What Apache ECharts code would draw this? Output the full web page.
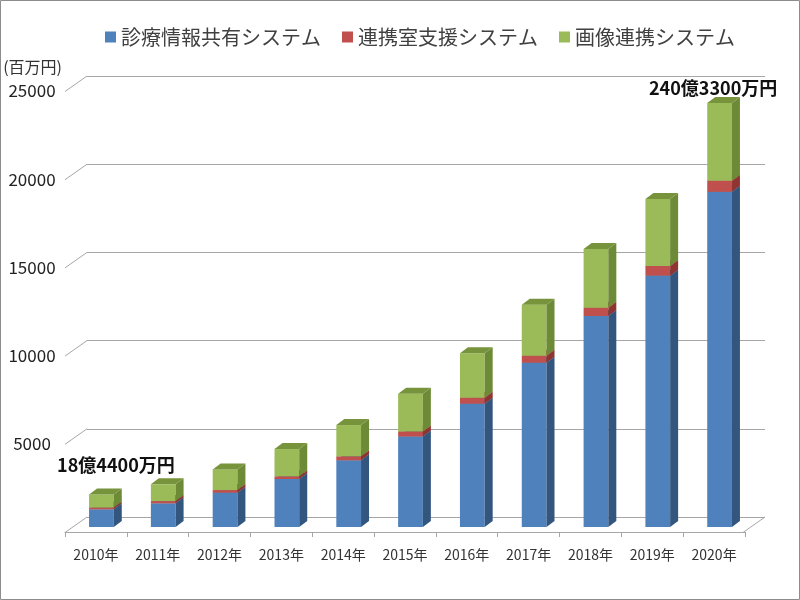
<!DOCTYPE html>
<html>
<head>
<meta charset="utf-8">
<script src="https://cdn.jsdelivr.net/npm/echarts@6/dist/echarts.min.js"></script>
<style>
html, body { margin: 0; padding: 0; background: #fff; }
#main { width: 800px; height: 600px; }
</style>
</head>
<body>
<div id="main"></div>
<script>
// data (百万円)
var years = ['2010年','2011年','2012年','2013年','2014年','2015年','2016年','2017年','2018年','2019年','2020年'];
var shinryo = [1000, 1340, 1945, 2720, 3780, 5130, 6990, 9315, 11960, 14250, 19000];
var renkei  = [100, 130, 150, 150, 225, 285, 340, 400, 470, 550, 630];
var gazou   = [744, 950, 1170, 1550, 1775, 2140, 2517, 2890, 3330, 3800, 4403];
var seriesNames = ['診療情報共有システム', '連携室支援システム', '画像連携システム'];
var yTicks = [0, 5000, 10000, 15000, 20000, 25000];
var noteYears = ['2010年', '2020年'];
var noteTexts = ['18億4400万円', '240億3300万円'];

var FONT = '"Noto Sans CJK JP", "Noto Sans", sans-serif';
var DEPTH_X = 22, DEPTH_Y = 15.5;     // front plane -> back wall
var BAR_DX = 5.5, BAR_DY = -5;        // bar front face offset from front plane
var SIDE_X = 8, SIDE_Y = 6;           // bar depth

var colors = [
    {front: '#4f81bd', side: '#33567f', top: '#3e6696'},
    {front: '#c0504d', side: '#8f3431', top: '#a43f3c'},
    {front: '#9bbb59', side: '#6d8a36', top: '#77933c'}
];

// stacking
var stacks = [shinryo, renkei, gazou];
var segData = [];
var running = years.map(function () { return 0; });
stacks.forEach(function (arr, s) {
    segData[s] = arr.map(function (v, i) {
        var lo = running[i];
        running[i] = lo + v;
        return [i, lo, lo + v];
    });
});
var totals = running.slice();

function renderSeg(c) {
    return function (params, api) {
        var i = api.value(0);
        var p0 = api.coord([i, api.value(1)]);
        var p1 = api.coord([i, api.value(2)]);
        var w = api.size([1, 0])[0] * 0.4;
        var x0 = p0[0] - w / 2 + BAR_DX, x1 = x0 + w;
        var yb = p0[1] + BAR_DY, yt = p1[1] + BAR_DY;
        return {
            type: 'group',
            children: [
                {type: 'polygon', shape: {points: [[x0, yb], [x1, yb], [x1, yt], [x0, yt]]}, style: {fill: c.front}},
                {type: 'polygon', shape: {points: [[x1, yb], [x1 + SIDE_X, yb - SIDE_Y], [x1 + SIDE_X, yt - SIDE_Y], [x1, yt]]}, style: {fill: c.side}},
                {type: 'polygon', shape: {points: [[x0, yt], [x1, yt], [x1 + SIDE_X, yt - SIDE_Y], [x0 + SIDE_X, yt - SIDE_Y]]}, style: {fill: c.top}}
            ]
        };
    };
}

function renderDiag(params, api) {
    var cs = params.coordSys;
    var v = api.value(0);
    var y = api.coord([0, v])[1];
    var ls = {stroke: '#a6a6a6', lineWidth: 1};
    var kids = [{type: 'line', shape: {x1: cs.x - DEPTH_X, y1: y + DEPTH_Y, x2: cs.x, y2: y}, style: ls}];
    if (v === 0) {
        kids.push({type: 'line', shape: {x1: cs.x + cs.width - DEPTH_X, y1: y + DEPTH_Y, x2: cs.x + cs.width, y2: y}, style: ls});
    }
    return {type: 'group', children: kids};
}

var noteOffsets = [[20, -34], [-1, -20]];
function renderNote(params, api) {
    var p = api.coord([api.value(0), api.value(1)]);
    var off = noteOffsets[params.dataIndex];
    return {
        type: 'text',
        x: p[0] + off[0],
        y: p[1] + off[1],
        style: {
            text: noteTexts[params.dataIndex],
            fill: '#111',
            font: 'bold 18px ' + FONT,
            align: 'center',
            verticalAlign: 'middle'
        }
    };
}

var chart = echarts.init(document.getElementById('main'));

var series = [
    {
        type: 'custom', name: 'diag', xAxisIndex: 1, yAxisIndex: 1,
        renderItem: renderDiag, silent: true, z: 1,
        data: yTicks.map(function (v) { return [v]; }),
        encode: {y: 0}
    }
];
seriesNames.forEach(function (n, s) {
    series.push({
        type: 'custom', name: n, xAxisIndex: 0, yAxisIndex: 0,
        renderItem: renderSeg(colors[s]),
        itemStyle: {color: colors[s].front},
        encode: {x: 0, y: [1, 2]},
        data: segData[s], z: 3
    });
});
series.push({
    type: 'custom', name: 'note', xAxisIndex: 0, yAxisIndex: 0,
    renderItem: renderNote, z: 4,
    encode: {x: 0, y: 1},
    data: noteYears.map(function (y) {
        var i = years.indexOf(y);
        return [i, totals[i]];
    })
});

var option = {
    animation: false,
    textStyle: {fontFamily: FONT},
    graphic: [{
        type: 'rect', silent: true, z: -10,
        shape: {x: 0.5, y: 0.5, width: 799, height: 599},
        style: {fill: 'none', stroke: '#8c8c8c', lineWidth: 1}
    }],
    legend: {
        data: seriesNames,
        top: 22, left: 100,
        icon: 'rect', itemWidth: 11, itemHeight: 11, itemGap: 21,
        textStyle: {fontSize: 20, color: '#404040', fontFamily: FONT}
    },
    grid: [
        {left: 65, top: 91, width: 680, height: 441},
        {left: 87, top: 76, width: 678, height: 441}
    ],
    xAxis: [
        {
            type: 'category', gridIndex: 0, data: years,
            axisLine: {lineStyle: {color: '#a6a6a6'}},
            axisTick: {show: true, length: 5, lineStyle: {color: '#a6a6a6'}},
            axisLabel: {fontSize: 14, color: '#333', margin: 16, fontFamily: FONT, interval: 0}
        },
        {
            type: 'category', gridIndex: 1, data: years, show: false
        }
    ],
    yAxis: [
        {
            type: 'value', gridIndex: 0, min: 0, max: 25000, interval: 5000,
            name: '(百万円)', nameLocation: 'end', nameGap: 24,
            nameTextStyle: {fontSize: 16, color: '#333', align: 'right', verticalAlign: 'middle', padding: [0, 3, 0, 0], fontFamily: FONT},
            axisLine: {show: false}, axisTick: {show: false}, splitLine: {show: false},
            axisLabel: {
                fontSize: 17, color: '#222', align: 'center', margin: 33, padding: [9, 0, 0, 0], fontFamily: FONT,
                formatter: function (v) { return v === 0 ? '' : String(v); }
            }
        },
        {
            type: 'value', gridIndex: 1, min: 0, max: 25000, interval: 5000,
            axisLine: {show: false}, axisTick: {show: false}, axisLabel: {show: false},
            splitLine: {show: true, lineStyle: {color: '#a6a6a6', width: 1}}
        }
    ],
    series: series
};
chart.setOption(option);
</script>
</body>
</html>
